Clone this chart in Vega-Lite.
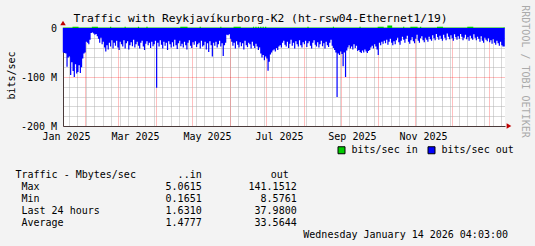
{
"$schema":"https://vega.github.io/schema/vega-lite/v6.json",
"autosize":{"type":"none"},
"padding":{"left":63,"top":28,"right":472,"bottom":218},
"background":"#f3f3f3",
"config":{
 "font":"DejaVu Sans Mono",
 "view":{"stroke":null},
 "axis":{"labelFont":"DejaVu Sans Mono","labelFontSize":10,"labelColor":"#000000","titleFont":"DejaVu Sans Mono","titleFontSize":10,"titleFontWeight":"normal","titleColor":"#000000","labelFlush":false,"labelOverlap":false,"labelBound":false},
 "legend":{"labelFont":"DejaVu Sans Mono","labelFontSize":10,"labelColor":"#000000"},
 "title":{"font":"DejaVu Sans Mono","fontWeight":"normal","color":"#000000","fontSize":10}
},
"spacing":42.5,
"bounds":"flush",
"vconcat":[
{
"width":442,"height":98,
"view":{"fill":"#ffffff","stroke":null},
"data":{"values":[
{"t":"2025-01-14","o":-50,"i":1},{"t":"2025-01-15","o":-51,"i":1},{"t":"2025-01-16","o":-52,"i":1},{"t":"2025-01-17","o":-79,"i":1},{"t":"2025-01-18","o":-60,"i":1},{"t":"2025-01-19","o":-58,"i":1},{"t":"2025-01-20","o":-96,"i":1},{"t":"2025-01-21","o":-70,"i":1},{"t":"2025-01-22","o":-88,"i":2.5},{"t":"2025-01-23","o":-100,"i":2.5},{"t":"2025-01-24","o":-74,"i":2.5},{"t":"2025-01-25","o":-93,"i":2.5},{"t":"2025-01-26","o":-90,"i":2.5},{"t":"2025-01-27","o":-76,"i":1},{"t":"2025-01-28","o":-92,"i":1},{"t":"2025-01-29","o":-80,"i":1},{"t":"2025-01-30","o":-62,"i":1},{"t":"2025-01-31","o":-52,"i":1},
{"t":"2025-02-01","o":-50,"i":1},{"t":"2025-02-02","o":-28,"i":1},{"t":"2025-02-03","o":-30,"i":1},{"t":"2025-02-04","o":-33,"i":1},{"t":"2025-02-05","o":-24,"i":1},{"t":"2025-02-06","o":-10,"i":1},{"t":"2025-02-07","o":-9,"i":2.5},{"t":"2025-02-08","o":-11,"i":2.5},{"t":"2025-02-09","o":-14,"i":2.5},{"t":"2025-02-10","o":-12,"i":2.5},{"t":"2025-02-11","o":-17,"i":2.5},{"t":"2025-02-12","o":-22,"i":1},{"t":"2025-02-13","o":-30,"i":1},{"t":"2025-02-14","o":-20,"i":1},{"t":"2025-02-15","o":-33,"i":1},{"t":"2025-02-16","o":-28,"i":1},{"t":"2025-02-17","o":-40,"i":1},{"t":"2025-02-18","o":-48,"i":1},{"t":"2025-02-19","o":-35,"i":1},{"t":"2025-02-20","o":-44,"i":1},{"t":"2025-02-21","o":-30,"i":1},{"t":"2025-02-22","o":-38,"i":2.5},{"t":"2025-02-23","o":-25,"i":1},{"t":"2025-02-24","o":-42,"i":1},{"t":"2025-02-25","o":-30,"i":1},{"t":"2025-02-26","o":-36,"i":1},{"t":"2025-02-27","o":-26,"i":1},{"t":"2025-02-28","o":-40,"i":1},
{"t":"2025-03-01","o":-45,"i":1},{"t":"2025-03-02","o":-28,"i":1},{"t":"2025-03-03","o":-33,"i":1},{"t":"2025-03-04","o":-38,"i":1},{"t":"2025-03-05","o":-25,"i":1},{"t":"2025-03-06","o":-42,"i":2.5},{"t":"2025-03-07","o":-31,"i":1},{"t":"2025-03-08","o":-27,"i":1},{"t":"2025-03-09","o":-44,"i":1},{"t":"2025-03-10","o":-35,"i":1},{"t":"2025-03-11","o":-29,"i":1},{"t":"2025-03-12","o":-37,"i":1},{"t":"2025-03-13","o":-24,"i":1},{"t":"2025-03-14","o":-40,"i":1},{"t":"2025-03-15","o":-33,"i":1},{"t":"2025-03-16","o":-28,"i":1},{"t":"2025-03-17","o":-36,"i":2.5},{"t":"2025-03-18","o":-42,"i":1},{"t":"2025-03-19","o":-30,"i":1},{"t":"2025-03-20","o":-26,"i":1},{"t":"2025-03-21","o":-38,"i":1},{"t":"2025-03-22","o":-45,"i":1},{"t":"2025-03-23","o":-32,"i":1},{"t":"2025-03-24","o":-27,"i":2.5},{"t":"2025-03-25","o":-35,"i":1},{"t":"2025-03-26","o":-30,"i":1},{"t":"2025-03-27","o":-41,"i":1},{"t":"2025-03-28","o":-28,"i":1},{"t":"2025-03-29","o":-37,"i":1},{"t":"2025-03-30","o":-33,"i":1},{"t":"2025-03-31","o":-26,"i":1},
{"t":"2025-04-01","o":-122,"i":1},{"t":"2025-04-02","o":-30,"i":1},{"t":"2025-04-03","o":-38,"i":1},{"t":"2025-04-04","o":-25,"i":1},{"t":"2025-04-05","o":-34,"i":1},{"t":"2025-04-06","o":-42,"i":1},{"t":"2025-04-07","o":-28,"i":1},{"t":"2025-04-08","o":-36,"i":1},{"t":"2025-04-09","o":-30,"i":1},{"t":"2025-04-10","o":-45,"i":1},{"t":"2025-04-11","o":-27,"i":1},{"t":"2025-04-12","o":-33,"i":1},{"t":"2025-04-13","o":-40,"i":1},{"t":"2025-04-14","o":-29,"i":1},{"t":"2025-04-15","o":-38,"i":1},{"t":"2025-04-16","o":-24,"i":1},{"t":"2025-04-17","o":-35,"i":1},{"t":"2025-04-18","o":-43,"i":1},{"t":"2025-04-19","o":-31,"i":1},{"t":"2025-04-20","o":-26,"i":1},{"t":"2025-04-21","o":-37,"i":2.5},{"t":"2025-04-22","o":-32,"i":2.5},{"t":"2025-04-23","o":-40,"i":2.5},{"t":"2025-04-24","o":-28,"i":2.5},{"t":"2025-04-25","o":-35,"i":2.5},{"t":"2025-04-26","o":-44,"i":2.5},{"t":"2025-04-27","o":-30,"i":1},{"t":"2025-04-28","o":-25,"i":1},{"t":"2025-04-29","o":-36,"i":1},{"t":"2025-04-30","o":-41,"i":1},
{"t":"2025-05-01","o":-29,"i":1},{"t":"2025-05-02","o":-34,"i":1},{"t":"2025-05-03","o":-27,"i":1},{"t":"2025-05-04","o":-39,"i":1},{"t":"2025-05-05","o":-33,"i":1},{"t":"2025-05-06","o":-30,"i":1},{"t":"2025-05-07","o":-42,"i":2.5},{"t":"2025-05-08","o":-26,"i":1},{"t":"2025-05-09","o":-38,"i":1},{"t":"2025-05-10","o":-35,"i":1},{"t":"2025-05-11","o":-28,"i":1},{"t":"2025-05-12","o":-44,"i":1},{"t":"2025-05-13","o":-31,"i":1},{"t":"2025-05-14","o":-49,"i":1},{"t":"2025-05-15","o":-27,"i":1},{"t":"2025-05-16","o":-35,"i":1},{"t":"2025-05-17","o":-58,"i":1},{"t":"2025-05-18","o":-30,"i":1},{"t":"2025-05-19","o":-36,"i":1},{"t":"2025-05-20","o":-28,"i":1},{"t":"2025-05-21","o":-40,"i":1},{"t":"2025-05-22","o":-33,"i":1},{"t":"2025-05-23","o":-26,"i":1},{"t":"2025-05-24","o":-38,"i":2.5},{"t":"2025-05-25","o":-31,"i":1},{"t":"2025-05-26","o":-57,"i":1},{"t":"2025-05-27","o":-35,"i":1},{"t":"2025-05-28","o":-30,"i":1},{"t":"2025-05-29","o":-14,"i":1},{"t":"2025-05-30","o":-15,"i":1},{"t":"2025-05-31","o":-13,"i":1},
{"t":"2025-06-01","o":-22,"i":1},{"t":"2025-06-02","o":-28,"i":1},{"t":"2025-06-03","o":-36,"i":1},{"t":"2025-06-04","o":-30,"i":2.5},{"t":"2025-06-05","o":-42,"i":2.5},{"t":"2025-06-06","o":-27,"i":2.5},{"t":"2025-06-07","o":-34,"i":2.5},{"t":"2025-06-08","o":-40,"i":2.5},{"t":"2025-06-09","o":-29,"i":2.5},{"t":"2025-06-10","o":-37,"i":1},{"t":"2025-06-11","o":-31,"i":1},{"t":"2025-06-12","o":-44,"i":1},{"t":"2025-06-13","o":-26,"i":1},{"t":"2025-06-14","o":-35,"i":1},{"t":"2025-06-15","o":-39,"i":1},{"t":"2025-06-16","o":-30,"i":1},{"t":"2025-06-17","o":-33,"i":1},{"t":"2025-06-18","o":-42,"i":1},{"t":"2025-06-19","o":-28,"i":1},{"t":"2025-06-20","o":-36,"i":2.5},{"t":"2025-06-21","o":-41,"i":1},{"t":"2025-06-22","o":-32,"i":2.5},{"t":"2025-06-23","o":-38,"i":1},{"t":"2025-06-24","o":-45,"i":2.5},{"t":"2025-06-25","o":-40,"i":1},{"t":"2025-06-26","o":-52,"i":2.5},{"t":"2025-06-27","o":-60,"i":1},{"t":"2025-06-28","o":-55,"i":2.5},{"t":"2025-06-29","o":-66,"i":1},{"t":"2025-06-30","o":-58,"i":2.5},
{"t":"2025-07-01","o":-62,"i":1},{"t":"2025-07-02","o":-87,"i":1},{"t":"2025-07-03","o":-69,"i":1},{"t":"2025-07-04","o":-54,"i":1},{"t":"2025-07-05","o":-50,"i":1},{"t":"2025-07-06","o":-46,"i":1},{"t":"2025-07-07","o":-44,"i":1},{"t":"2025-07-08","o":-48,"i":1},{"t":"2025-07-09","o":-41,"i":1},{"t":"2025-07-10","o":-45,"i":1},{"t":"2025-07-11","o":-38,"i":1},{"t":"2025-07-12","o":-35,"i":1},{"t":"2025-07-13","o":-40,"i":1},{"t":"2025-07-14","o":-30,"i":1},{"t":"2025-07-15","o":-26,"i":1},{"t":"2025-07-16","o":-34,"i":1},{"t":"2025-07-17","o":-38,"i":1},{"t":"2025-07-18","o":-28,"i":1},{"t":"2025-07-19","o":-41,"i":1},{"t":"2025-07-20","o":-32,"i":1},{"t":"2025-07-21","o":-24,"i":1},{"t":"2025-07-22","o":-36,"i":1},{"t":"2025-07-23","o":-30,"i":1},{"t":"2025-07-24","o":-42,"i":1},{"t":"2025-07-25","o":-27,"i":1},{"t":"2025-07-26","o":-33,"i":1},{"t":"2025-07-27","o":-38,"i":1},{"t":"2025-07-28","o":-25,"i":1},{"t":"2025-07-29","o":-35,"i":1},{"t":"2025-07-30","o":-40,"i":1},{"t":"2025-07-31","o":-29,"i":1},
{"t":"2025-08-01","o":-33,"i":1},{"t":"2025-08-02","o":-26,"i":1},{"t":"2025-08-03","o":-39,"i":1},{"t":"2025-08-04","o":-31,"i":2.5},{"t":"2025-08-05","o":-27,"i":1},{"t":"2025-08-06","o":-36,"i":1},{"t":"2025-08-07","o":-42,"i":1},{"t":"2025-08-08","o":-30,"i":1},{"t":"2025-08-09","o":-25,"i":1},{"t":"2025-08-10","o":-34,"i":1},{"t":"2025-08-11","o":-38,"i":1},{"t":"2025-08-12","o":-29,"i":1},{"t":"2025-08-13","o":-40,"i":1},{"t":"2025-08-14","o":-33,"i":1},{"t":"2025-08-15","o":-26,"i":1},{"t":"2025-08-16","o":-37,"i":1},{"t":"2025-08-17","o":-31,"i":1},{"t":"2025-08-18","o":-42,"i":1},{"t":"2025-08-19","o":-28,"i":1},{"t":"2025-08-20","o":-35,"i":1},{"t":"2025-08-21","o":-39,"i":1},{"t":"2025-08-22","o":-30,"i":1},{"t":"2025-08-23","o":-24,"i":1},{"t":"2025-08-24","o":-36,"i":1},{"t":"2025-08-25","o":-41,"i":2.5},{"t":"2025-08-26","o":-45,"i":1},{"t":"2025-08-27","o":-50,"i":1},{"t":"2025-08-28","o":-141,"i":1},{"t":"2025-08-29","o":-52,"i":1},{"t":"2025-08-30","o":-55,"i":1},{"t":"2025-08-31","o":-48,"i":1},
{"t":"2025-09-01","o":-53,"i":1},{"t":"2025-09-02","o":-78,"i":1},{"t":"2025-09-03","o":-50,"i":1},{"t":"2025-09-04","o":-100,"i":1},{"t":"2025-09-05","o":-46,"i":1},{"t":"2025-09-06","o":-40,"i":1},{"t":"2025-09-07","o":-35,"i":1},{"t":"2025-09-08","o":-42,"i":1},{"t":"2025-09-09","o":-38,"i":1},{"t":"2025-09-10","o":-44,"i":1},{"t":"2025-09-11","o":-33,"i":1},{"t":"2025-09-12","o":-41,"i":1},{"t":"2025-09-13","o":-36,"i":1},{"t":"2025-09-14","o":-47,"i":1},{"t":"2025-09-15","o":-45,"i":1},{"t":"2025-09-16","o":-49,"i":2.5},{"t":"2025-09-17","o":-51,"i":1},{"t":"2025-09-18","o":-46,"i":1},{"t":"2025-09-19","o":-50,"i":1},{"t":"2025-09-20","o":-44,"i":1},{"t":"2025-09-21","o":-48,"i":1},{"t":"2025-09-22","o":-51,"i":1},{"t":"2025-09-23","o":-47,"i":1},{"t":"2025-09-24","o":-45,"i":1},{"t":"2025-09-25","o":-40,"i":1},{"t":"2025-09-26","o":-36,"i":1},{"t":"2025-09-27","o":-42,"i":1},{"t":"2025-09-28","o":-33,"i":1},{"t":"2025-09-29","o":-38,"i":1},{"t":"2025-09-30","o":-44,"i":1},
{"t":"2025-10-01","o":-55,"i":2.5},{"t":"2025-10-02","o":-30,"i":2.5},{"t":"2025-10-03","o":-35,"i":2.5},{"t":"2025-10-04","o":-28,"i":2.5},{"t":"2025-10-05","o":-32,"i":2.5},{"t":"2025-10-06","o":-26,"i":1},{"t":"2025-10-07","o":-31,"i":1},{"t":"2025-10-08","o":-24,"i":1},{"t":"2025-10-09","o":-34,"i":5},{"t":"2025-10-10","o":-28,"i":5},{"t":"2025-10-11","o":-22,"i":5},{"t":"2025-10-12","o":-30,"i":5},{"t":"2025-10-13","o":-35,"i":1},{"t":"2025-10-14","o":-27,"i":1},{"t":"2025-10-15","o":-33,"i":1},{"t":"2025-10-16","o":-25,"i":1},{"t":"2025-10-17","o":-20,"i":1},{"t":"2025-10-18","o":-29,"i":1},{"t":"2025-10-19","o":-34,"i":1},{"t":"2025-10-20","o":-26,"i":1},{"t":"2025-10-21","o":-18,"i":1},{"t":"2025-10-22","o":-24,"i":2.5},{"t":"2025-10-23","o":-30,"i":1},{"t":"2025-10-24","o":-22,"i":1},{"t":"2025-10-25","o":-16,"i":1},{"t":"2025-10-26","o":-28,"i":1},{"t":"2025-10-27","o":-32,"i":1},{"t":"2025-10-28","o":-25,"i":2.5},{"t":"2025-10-29","o":-19,"i":2.5},{"t":"2025-10-30","o":-27,"i":2.5},{"t":"2025-10-31","o":-31,"i":2.5},
{"t":"2025-11-01","o":-22,"i":2.5},{"t":"2025-11-02","o":-14,"i":2.5},{"t":"2025-11-03","o":-26,"i":1},{"t":"2025-11-04","o":-30,"i":1},{"t":"2025-11-05","o":-21,"i":2.5},{"t":"2025-11-06","o":-17,"i":1},{"t":"2025-11-07","o":-25,"i":1},{"t":"2025-11-08","o":-29,"i":1},{"t":"2025-11-09","o":-20,"i":1},{"t":"2025-11-10","o":-24,"i":1},{"t":"2025-11-11","o":-28,"i":1},{"t":"2025-11-12","o":-18,"i":1},{"t":"2025-11-13","o":-23,"i":1},{"t":"2025-11-14","o":-26,"i":1},{"t":"2025-11-15","o":-15,"i":1},{"t":"2025-11-16","o":-21,"i":1},{"t":"2025-11-17","o":-25,"i":1},{"t":"2025-11-18","o":-12,"i":1},{"t":"2025-11-19","o":-19,"i":2.5},{"t":"2025-11-20","o":-24,"i":2.5},{"t":"2025-11-21","o":-16,"i":2.5},{"t":"2025-11-22","o":-22,"i":2.5},{"t":"2025-11-23","o":-26,"i":2.5},{"t":"2025-11-24","o":-14,"i":1},{"t":"2025-11-25","o":-20,"i":1},{"t":"2025-11-26","o":-25,"i":1},{"t":"2025-11-27","o":-11,"i":1},{"t":"2025-11-28","o":-18,"i":1},{"t":"2025-11-29","o":-23,"i":1},{"t":"2025-11-30","o":-15,"i":1},
{"t":"2025-12-01","o":-21,"i":1},{"t":"2025-12-02","o":-26,"i":1},{"t":"2025-12-03","o":-13,"i":1},{"t":"2025-12-04","o":-19,"i":1},{"t":"2025-12-05","o":-24,"i":1},{"t":"2025-12-06","o":-17,"i":1},{"t":"2025-12-07","o":-22,"i":1},{"t":"2025-12-08","o":-12,"i":1},{"t":"2025-12-09","o":-18,"i":1},{"t":"2025-12-10","o":-25,"i":1},{"t":"2025-12-11","o":-20,"i":1},{"t":"2025-12-12","o":-14,"i":1},{"t":"2025-12-13","o":-23,"i":1},{"t":"2025-12-14","o":-19,"i":2.5},{"t":"2025-12-15","o":-26,"i":2.5},{"t":"2025-12-16","o":-16,"i":2.5},{"t":"2025-12-17","o":-21,"i":2.5},{"t":"2025-12-18","o":-24,"i":2.5},{"t":"2025-12-19","o":-13,"i":1},{"t":"2025-12-20","o":-20,"i":1},{"t":"2025-12-21","o":-25,"i":1},{"t":"2025-12-22","o":-18,"i":1},{"t":"2025-12-23","o":-22,"i":1},{"t":"2025-12-24","o":-28,"i":1},{"t":"2025-12-25","o":-17,"i":1},{"t":"2025-12-26","o":-26,"i":1},{"t":"2025-12-27","o":-30,"i":1},{"t":"2025-12-28","o":-20,"i":1},{"t":"2025-12-29","o":-24,"i":1},{"t":"2025-12-30","o":-27,"i":1},{"t":"2025-12-31","o":-21,"i":1},
{"t":"2026-01-01","o":-29,"i":1},{"t":"2026-01-02","o":-25,"i":1},{"t":"2026-01-03","o":-32,"i":1},{"t":"2026-01-04","o":-23,"i":1},{"t":"2026-01-05","o":-30,"i":1},{"t":"2026-01-06","o":-34,"i":1},{"t":"2026-01-07","o":-26,"i":1},{"t":"2026-01-08","o":-31,"i":1},{"t":"2026-01-09","o":-36,"i":1},{"t":"2026-01-10","o":-28,"i":1},{"t":"2026-01-11","o":-35,"i":1},{"t":"2026-01-12","o":-38,"i":1},{"t":"2026-01-13","o":-38,"i":1.6},{"t":"2026-01-14","o":-38,"i":1.6}
]},
"layer":[
 {"mark":{"type":"area","interpolate":"step-after","opacity":1},
  "encoding":{
   "x":{"field":"t","type":"temporal","scale":{"type":"utc","domain":[{"year":2025,"month":1,"date":14,"hours":4,"minutes":3,"utc":true},{"year":2026,"month":1,"date":14,"hours":4,"minutes":3,"utc":true}]},
        "axis":{"orient":"bottom","values":[{"year":2025,"month":1,"date":16,"hours":15,"utc":true},{"year":2025,"month":3,"date":14,"hours":15,"utc":true},{"year":2025,"month":5,"date":13,"hours":2,"utc":true},{"year":2025,"month":7,"date":11,"hours":14,"utc":true},{"year":2025,"month":9,"date":9,"hours":18,"utc":true},{"year":2025,"month":11,"date":7,"hours":11,"utc":true}],"format":"%b %Y","grid":false,"ticks":false,"tickSize":0,"labelPadding":5,"domain":true,"domainColor":"#4a3a3a","title":null}},
   "y":{"field":"o","type":"quantitative","scale":{"domain":[-200,0],"nice":false,"zero":false},
        "axis":{"orient":"left","values":[0,-100,-200],"labelExpr":"datum.value == 0 ? '0' : datum.value + ' M'","grid":true,"gridColor":"#ff0000","gridOpacity":0.5,"gridDash":[1,1],"ticks":false,"tickSize":0,"labelPadding":6.5,"domain":true,"domainColor":"#4a3a3a","title":"bits/sec","titlePadding":5.4,"titleBaseline":"alphabetic","titleY":47}},
   "color":{"datum":"bits/sec out","type":"nominal","scale":{"domain":["bits/sec in","bits/sec out"],"range":["#00cc00","#0000ff"]},
     "legend":{"orient":"none","legendX":273.5,"legendY":117,"direction":"horizontal","columns":2,"title":null,"symbolType":"square","symbolSize":49,"symbolStrokeColor":"#000000","symbolStrokeWidth":1,"symbolOpacity":1,"labelOffset":5,"columnPadding":7,"padding":0}}
  }},
 {"mark":{"type":"area","interpolate":"step-after","opacity":1},
  "encoding":{
   "x":{"field":"t","type":"temporal","scale":{"type":"utc","domain":[{"year":2025,"month":1,"date":14,"hours":4,"minutes":3,"utc":true},{"year":2026,"month":1,"date":14,"hours":4,"minutes":3,"utc":true}]},
        "axis":{"orient":"bottom","grid":true,"tickCount":{"interval":"week","step":1},"gridColor":"#b0b0b0","gridDash":[1,1],"labels":false,"ticks":false,"domain":false,"title":null}},
   "y":{"field":"i","type":"quantitative","scale":{"domain":[-200,0],"nice":false,"zero":false},
        "axis":{"orient":"left","values":[-20,-40,-60,-80,-120,-140,-160,-180],"grid":true,"gridColor":"#b0b0b0","gridDash":[1,1],"labels":false,"ticks":false,"domain":false,"title":null}},
   "color":{"datum":"bits/sec in","type":"nominal"}
  }},
 {"data":{"values":[{"t":"2025-01-14T04:03:00Z","v":0}]},
  "mark":{"type":"point","shape":"triangle-up","filled":true,"size":30,"color":"#c00000","opacity":1,"yOffset":-5},
  "encoding":{
   "x":{"field":"t","type":"temporal","scale":{"type":"utc","domain":[{"year":2025,"month":1,"date":14,"hours":4,"minutes":3,"utc":true},{"year":2026,"month":1,"date":14,"hours":4,"minutes":3,"utc":true}]},
        "axis":{"orient":"bottom","values":[{"year":2025,"month":2,"date":1,"utc":true},{"year":2025,"month":3,"date":1,"utc":true},{"year":2025,"month":4,"date":1,"utc":true},{"year":2025,"month":5,"date":1,"utc":true},{"year":2025,"month":6,"date":1,"utc":true},{"year":2025,"month":7,"date":1,"utc":true},{"year":2025,"month":8,"date":1,"utc":true},{"year":2025,"month":9,"date":1,"utc":true},{"year":2025,"month":10,"date":1,"utc":true},{"year":2025,"month":11,"date":1,"utc":true},{"year":2025,"month":12,"date":1,"utc":true},{"year":2026,"month":1,"date":1,"utc":true}],"grid":true,"gridColor":"#ff0000","gridOpacity":0.5,"gridDash":[1,1],"labels":false,"ticks":false,"domain":false,"title":null}},
   "y":{"field":"v","type":"quantitative","scale":{"domain":[-200,0],"nice":false,"zero":false},
        "axis":{"orient":"right","title":"RRDTOOL / TOBI OETIKER","titleAngle":90,"titleBaseline":"alphabetic","titlePadding":16.7,"titleY":43,"titleColor":"#aaaaaa","labels":false,"ticks":false,"domain":false,"grid":false}}
  }},
 {"data":{"values":[{"t":"2026-01-14T04:03:00Z","v":-200}]},
  "mark":{"type":"point","shape":"triangle-right","filled":true,"size":30,"color":"#c00000","opacity":1,"xOffset":4},
  "encoding":{
   "x":{"field":"t","type":"temporal","scale":{"type":"utc","domain":[{"year":2025,"month":1,"date":14,"hours":4,"minutes":3,"utc":true},{"year":2026,"month":1,"date":14,"hours":4,"minutes":3,"utc":true}]},
        "axis":{"orient":"top","title":"Traffic with Reykjavíkurborg-K2 (ht-rsw04-Ethernet1/19)","titleFontSize":11.3,"titleBaseline":"alphabetic","titlePadding":6.5,"titleX":197,"labels":false,"ticks":false,"domain":false,"grid":false}},
   "y":{"field":"v","type":"quantitative","scale":{"domain":[-200,0],"nice":false,"zero":false},"axis":null}
  }}
],
"resolve":{"axis":{"x":"independent","y":"independent"}}
},
{
"width":445,"height":60,
"data":{"values":[
 {"label":"Traffic - Mbytes/sec","col":"in","v":"..in"},
 {"label":"Traffic - Mbytes/sec","col":"out","v":"out"},
 {"label":"Max","col":"in","v":"5.0615"},
 {"label":"Max","col":"out","v":"141.1512"},
 {"label":"Min","col":"in","v":"0.1651"},
 {"label":"Min","col":"out","v":"8.5761"},
 {"label":"Last 24 hours","col":"in","v":"1.6310"},
 {"label":"Last 24 hours","col":"out","v":"37.9800"},
 {"label":"Average","col":"in","v":"1.4777"},
 {"label":"Average","col":"out","v":"33.5644"}
]},
"layer":[
 {"transform":[{"filter":"!(datum.label == 'Traffic - Mbytes/sec' && datum.col == 'out')"}],
  "mark":{"type":"text","align":"right","baseline":"middle","font":"DejaVu Sans Mono","fontSize":10,"color":"#000000"},
  "encoding":{
   "x":{"field":"col","type":"nominal","scale":{"type":"point","domain":["in","out"],"range":[138.7,233.7],"padding":0},"axis":null},
   "y":{"field":"label","type":"nominal","scale":{"type":"band","domain":["Traffic - Mbytes/sec","Max","Min","Last 24 hours","Average"],"paddingInner":0,"paddingOuter":0},
        "axis":{"orient":"left","values":["Traffic - Mbytes/sec"],"labelAlign":"left","labelBaseline":"middle","labelPadding":48,"ticks":false,"tickSize":0,"domain":false,"grid":false,"title":null,"labelLimit":400}},
   "text":{"field":"v","type":"nominal"}
  }},
 {"transform":[{"filter":"datum.label == 'Traffic - Mbytes/sec' && datum.col == 'out'"}],
  "mark":{"type":"text","align":"right","baseline":"middle","font":"DejaVu Sans Mono","fontSize":10,"color":"#000000","dx":-8},
  "encoding":{
   "x":{"field":"col","type":"nominal","scale":{"type":"point","domain":["in","out"],"range":[138.7,233.7],"padding":0},"axis":null},
   "y":{"field":"label","type":"nominal","scale":{"type":"band","domain":["Traffic - Mbytes/sec","Max","Min","Last 24 hours","Average"],"paddingInner":0,"paddingOuter":0},
        "axis":{"orient":"left","values":["Max","Min","Last 24 hours","Average"],"labelAlign":"left","labelBaseline":"middle","labelPadding":42,"ticks":false,"tickSize":0,"domain":false,"grid":false,"title":null,"labelLimit":400}},
   "text":{"field":"v","type":"nominal"}
  }}
],
"resolve":{"axis":{"y":"independent"}},
"title":{"text":"Wednesday January 14 2026 04:03:00","orient":"bottom","anchor":"end","baseline":"top","offset":1,"fontSize":10,"font":"DejaVu Sans Mono","fontWeight":"normal","color":"#000000","frame":"group"}
}
]
}
